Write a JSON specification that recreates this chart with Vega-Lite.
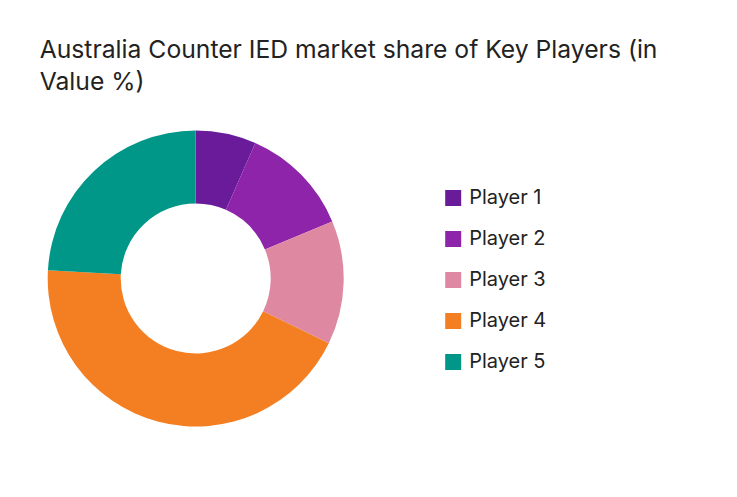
{
  "$schema": "https://vega.github.io/schema/vega-lite/v6.json",
  "width": 296,
  "height": 296,
  "autosize": {"type": "none"},
  "padding": {"left": 47.7, "top": 130.5, "right": 393, "bottom": 70.5},
  "background": "white",
  "title": {
    "text": ["Australia Counter IED market share of Key Players (in", "Value %)"],
    "anchor": "start",
    "frame": "group",
    "dx": -8,
    "offset": 36,
    "font": "Inter",
    "fontSize": 24.7,
    "fontWeight": "normal",
    "lineHeight": 32,
    "color": "#222222"
  },
  "data": {
    "values": [
      {"player": "Player 1", "share": 6.6},
      {"player": "Player 2", "share": 12.1},
      {"player": "Player 3", "share": 13.5},
      {"player": "Player 4", "share": 43.7},
      {"player": "Player 5", "share": 24.1}
    ]
  },
  "mark": {"type": "arc", "innerRadius": 75, "outerRadius": 148},
  "encoding": {
    "theta": {"field": "share", "type": "quantitative", "stack": true},
    "order": {"field": "player", "sort": "ascending"},
    "color": {
      "field": "player",
      "type": "nominal",
      "scale": {
        "domain": ["Player 1", "Player 2", "Player 3", "Player 4", "Player 5"],
        "range": ["#6a1b9a", "#8e24aa", "#de89a1", "#f47f22", "#009688"]
      },
      "legend": {
        "title": null,
        "orient": "none",
        "legendX": 395.5,
        "legendY": 57.5,
        "symbolType": "square",
        "symbolSize": 256,
        "symbolStrokeWidth": 0,
        "labelFont": "Inter",
        "labelFontSize": 20,
        "labelColor": "#222222",
        "labelOffset": 6,
        "rowPadding": 21
      }
    }
  },
  "config": {"view": {"stroke": null}}
}
